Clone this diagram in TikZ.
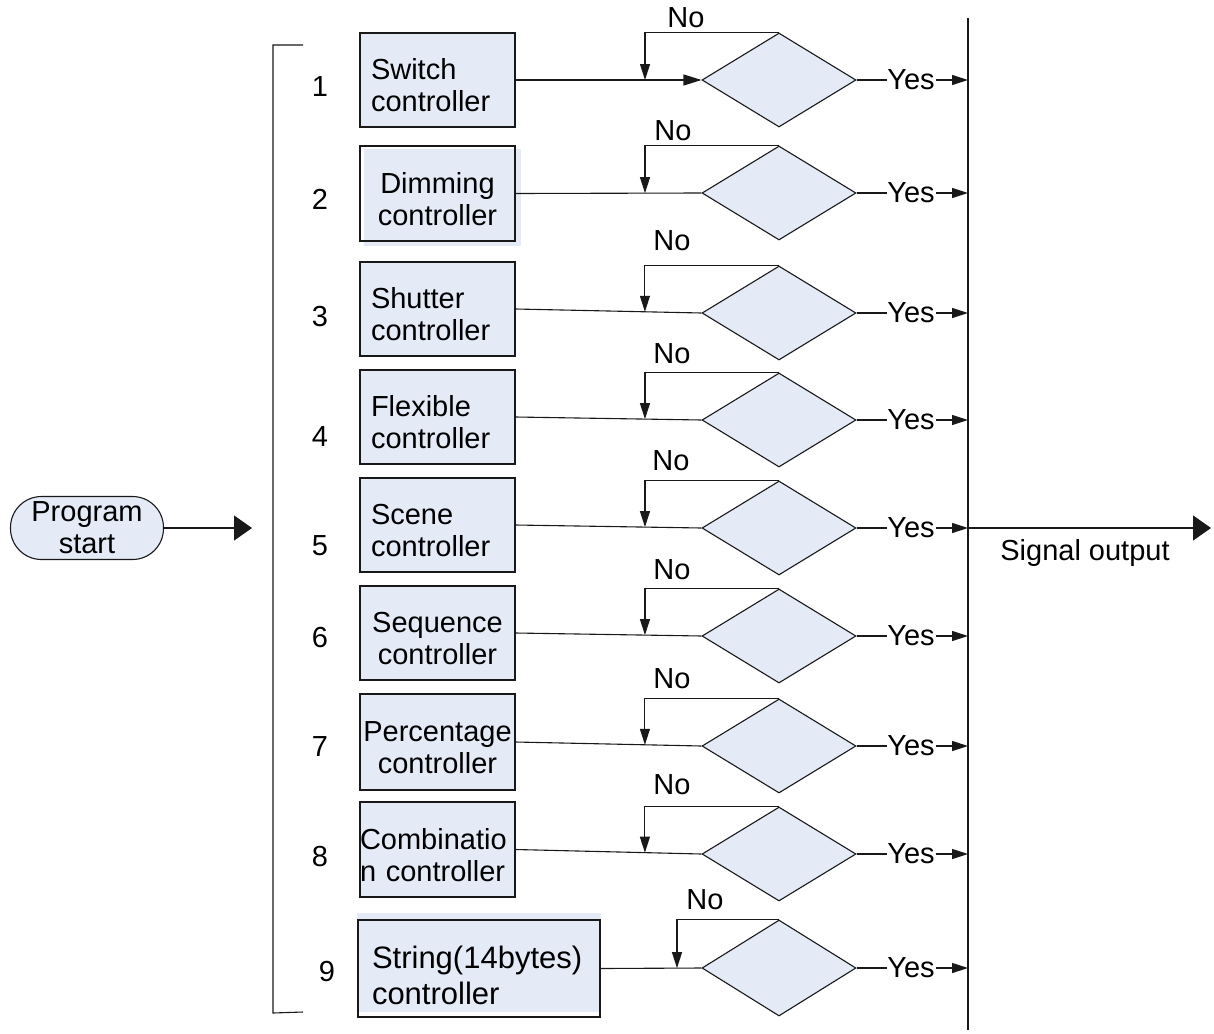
\documentclass[tikz,border=0pt]{standalone}
\usepackage{fontspec}
\setmainfont{Liberation Sans}
\usetikzlibrary{shapes.geometric,arrows.meta,calc,backgrounds}
\definecolor{boxfill}{RGB}{228,235,247}
\definecolor{ln}{RGB}{25,25,25}
\newcommand{\tup}{\rule{0pt}{32pt}}
\begin{document}
\begin{tikzpicture}[x=1pt,y=-1pt,
  font=\fontsize{29}{32}\selectfont,
  line width=1.1pt, draw=ln,
  ctrl/.style={draw=ln, fill=boxfill, minimum height=94pt, inner xsep=11pt, inner ysep=0pt, text width=133pt, align=left},
  dec/.style={diamond, draw=ln, fill=boxfill, minimum width=154pt, minimum height=94pt, inner sep=0pt},
  lbl/.style={inner sep=0pt},
  arr/.style={-{Triangle[length=16pt,width=10pt]}},
  arrin/.style={-{Triangle[length=18pt,width=11pt]}},
  bigarr/.style={-{Triangle[length=18pt,width=25pt]}},
  start/.style={draw=ln, fill=boxfill, rectangle, rounded corners=31pt, minimum width=153pt, minimum height=63pt, inner sep=0pt, align=center}
]
\useasboundingbox (0,0) rectangle (1214,1033);

% program start
\node[start] (ps) at (87,528) {Program\\start};
\coordinate (psend) at (252,528);
\draw[bigarr] (ps.east) -- (psend);

% bracket
\draw (303,45) -- (273,45) -- (273,1013) -- (303,1012);

% numbers
\node[lbl] (n1) at (320,87) {1};
\node[lbl] (n2) at (320,199) {2};
\node[lbl] (n3) at (320,317) {3};
\node[lbl] (n4) at (320,437) {4};
\node[lbl] (n5) at (320,546) {5};
\node[lbl] (n6) at (320,638) {6};
\node[lbl] (n7) at (320,747) {7};
\node[lbl] (n8) at (320,857) {8};
\node[lbl] (n9) at (327,972) {9};

% controller boxes
\node[ctrl] (b1) at (437.5,80) {\tup Switch\\controller};
\node[ctrl, fill=none, minimum height=95pt, align=center, inner xsep=7pt, text width=141pt] (b2) at (437.5,193.5) {\tup Dimming\\controller};
\begin{scope}[on background layer]
  \fill[boxfill] ([shift={(5,4)}]b2.south west) rectangle ([shift={(5,4)}]b2.north east);
\end{scope}
\node[ctrl] (b3) at (437.5,309) {\tup Shutter\\controller};
\node[ctrl] (b4) at (437.5,417) {\tup Flexible\\controller};
\node[ctrl] (b5) at (437.5,525) {\tup Scene\\controller};
\node[ctrl, align=center, inner xsep=2pt, text width=151pt] (b6) at (437.5,633) {\tup Sequence\\controller};
\node[ctrl, align=center, inner xsep=1pt, text width=153pt, minimum height=96pt] (b7) at (437.5,742) {\tup Percentage\\controller};
\node[ctrl, inner xsep=0pt, text width=155pt, minimum height=95pt] (b8) at (437.5,849.5) {\tup Combinatio\\n controller};
\node[ctrl, fill=none, font=\fontsize{31}{36}\selectfont, inner xsep=14pt, text width=214pt, minimum height=97pt] (b9) at (479,968.5) {\rule{0pt}{36pt}String(14bytes)\\controller};
\begin{scope}[on background layer]
  \fill[boxfill] ([shift={(0,-6)}]b9.south west) rectangle ([shift={(0,-6)}]b9.north east);
\end{scope}

% decision diamonds
\node[dec] (d1) at (779,80) {};
\node[dec] (d2) at (779,193) {};
\node[dec] (d3) at (779,313) {};
\node[dec] (d4) at (779,420) {};
\node[dec] (d5) at (779,528) {};
\node[dec] (d6) at (779,636) {};
\node[dec] (d7) at (779,746) {};
\node[dec] (d8) at (779,854) {};
\node[dec, minimum height=96pt] (d9) at (779,968) {};

% box -> diamond
\draw[arrin] (b1.east) -- (d1.west);
\draw (b2.east) -- (d2.west);
\draw (b3.east) -- (d3.west);
\draw (b4.east) -- (d4.west);
\draw (b5.east) -- (d5.west);
\draw (b6.east) -- (d6.west);
\draw (b7.east) -- (d7.west);
\draw (b8.east) -- (d8.west);
\draw (b9.east) -- (d9.west);

% No loops
\coordinate (xa) at (645,0);
\coordinate (xb) at (677,0);
\foreach \i in {1,...,8}{
  \coordinate (m\i) at ($(b\i.east)!(b\i.east -| xa)!(d\i.west)$);
  \draw[arr] (d\i.north) -| (m\i);
}
\coordinate (m9) at ($(b9.east)!(b9.east -| xb)!(d9.west)$);
\draw[arr] (d9.north) -| (m9);

\node[lbl] (no1) at (686,18) {No};
\node[lbl] (no2) at (673,131) {No};
\node[lbl] (no3) at (672,241) {No};
\node[lbl] (no4) at (672,354) {No};
\node[lbl] (no5) at (671,461) {No};
\node[lbl] (no6) at (672,570) {No};
\node[lbl] (no7) at (672,679) {No};
\node[lbl] (no8) at (672,785) {No};
\node[lbl] (no9) at (705,900) {No};

% output bus
\coordinate (vtop) at (968,18);
\coordinate (vbot) at (968,1030);
\draw (vtop) -- (vbot);

% Yes branches
\foreach \i in {1,...,9}{
  \node[lbl] (y\i) at ($(d\i.center)+(132,0)$) {Yes};
  \coordinate (v\i) at ($(vtop)!(y\i)!(vbot)$);
  \draw (d\i.east) -- (y\i.west);
  \draw[arr] ([xshift=1pt]y\i.east) -- (v\i);
}

% signal output
\coordinate (sig) at (1211,528);
\draw[bigarr] (v5) -- (sig);
\node[lbl] (so) at (1085,553) {Signal output};
\end{tikzpicture}
\end{document}
